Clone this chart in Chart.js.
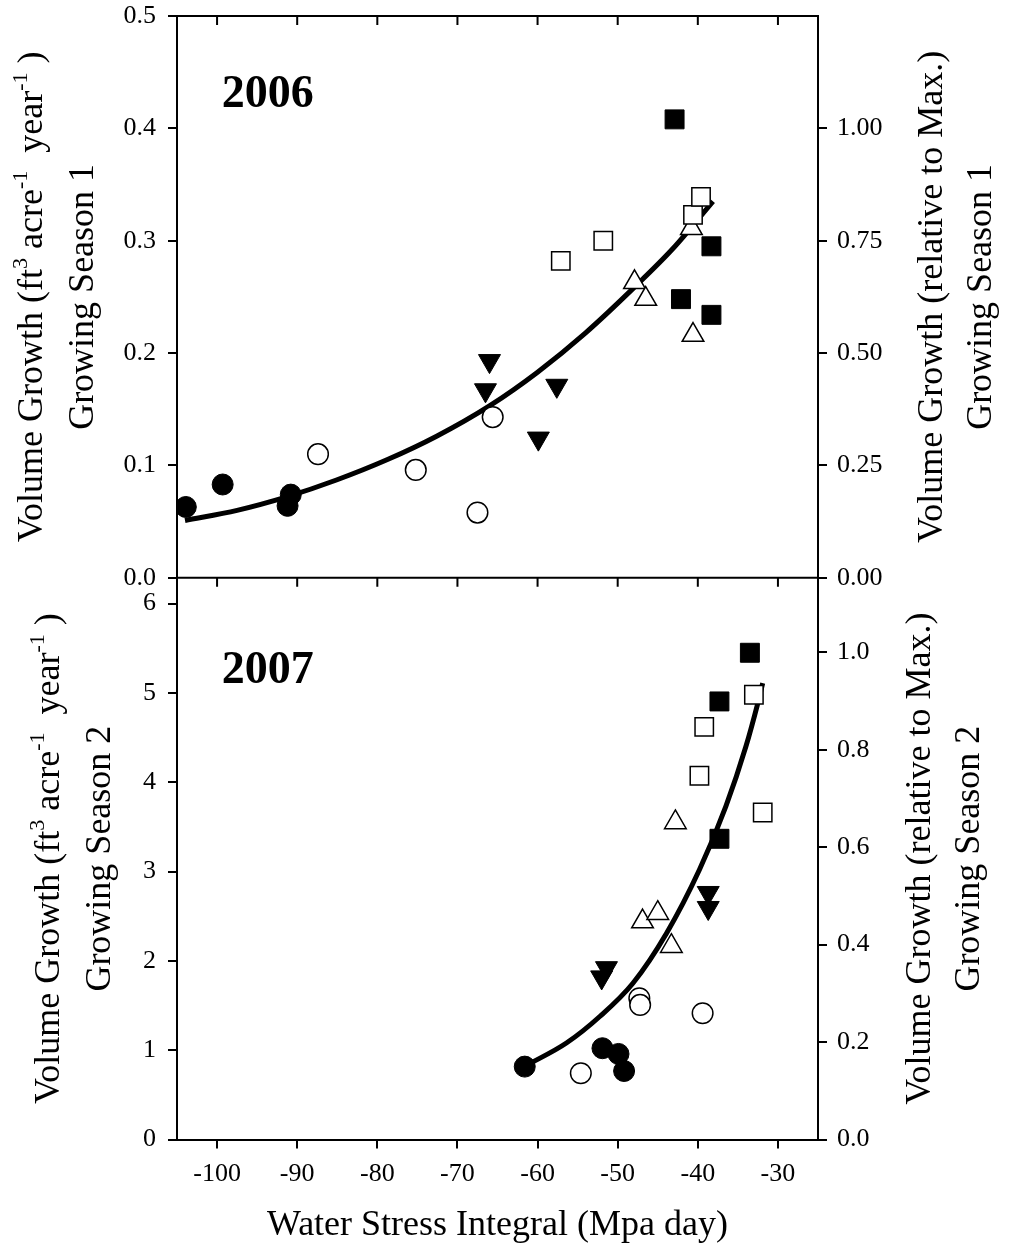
<!DOCTYPE html>
<html>
<head>
<meta charset="utf-8">
<script src="https://cdn.jsdelivr.net/npm/chart.js@4.4.1/dist/chart.umd.min.js"></script>
<style>
  body { margin: 0; background: #fff; }
  #wrap { position: relative; width: 1013px; height: 1251px; }
</style>
</head>
<body>
<div id="wrap"><canvas id="growthChart" width="1013" height="1251"></canvas></div>
<script>
// shared x axis
const xTicks = [-100, -90, -80, -70, -60, -50, -40, -30];
const xRange = [-105, -25];

// 2006 panel (growing season 1)
const leftTicks06 = [0, 0.1, 0.2, 0.3, 0.4, 0.5];
const rightTicks06 = [0, 0.25, 0.5, 0.75, 1.0];
const leftRange06 = [0, 0.5];
const rightRange06 = [0, 1.25];

const filledSquare06 = [[-42.9, 0.408], [-42.1, 0.248], [-38.3, 0.295], [-38.3, 0.234]];
const openSquare06 = [[-57.1, 0.282], [-51.8, 0.300], [-40.6, 0.323], [-39.6, 0.339]];
const openTriangle06 = [[-47.9, 0.263], [-46.5, 0.248], [-40.8, 0.311], [-40.6, 0.216]];
const filledTriangle06 = [[-66.0, 0.193], [-66.5, 0.167], [-59.9, 0.124], [-57.6, 0.171]];
const openCircle06 = [[-87.4, 0.110], [-75.2, 0.096], [-67.5, 0.058], [-65.6, 0.143]];
const filledCircle06 = [[-103.9, 0.063], [-99.3, 0.083], [-90.8, 0.074], [-91.2, 0.064]];
const fitCurve06 = [[-104.0, 0.051], [-97.5, 0.060], [-91.3, 0.072], [-85.1, 0.087], [-78.8, 0.105],
  [-72.6, 0.126], [-66.0, 0.153], [-60.0, 0.183], [-54.0, 0.218], [-48.0, 0.258],
  [-43.1, 0.293], [-38.1, 0.335]];

// 2007 panel (growing season 2)
const leftTicks07 = [0, 1, 2, 3, 4, 5, 6];
const rightTicks07 = [0, 0.2, 0.4, 0.6, 0.8, 1.0];
const leftRange07 = [0, 6.29];
const rightRange07 = [0, 1.153];

const filledSquare07 = [[-33.5, 5.45], [-37.3, 4.905], [-37.3, 3.367]];
const openSquare07 = [[-33.0, 4.98], [-39.2, 4.62], [-39.8, 4.073], [-31.9, 3.662]];
const openTriangle07 = [[-46.9, 2.44], [-45.0, 2.534], [-43.3, 2.165], [-42.8, 3.55]];
const filledTriangle07 = [[-51.4, 1.92], [-52.0, 1.817], [-38.7, 2.762], [-38.7, 2.594]];
const openCircle07 = [[-54.6, 0.742], [-47.3, 1.582], [-47.2, 1.507], [-39.4, 1.414]];
const filledCircle07 = [[-61.6, 0.816], [-51.9, 1.022], [-49.9, 0.958], [-49.2, 0.767]];
const fitCurve07 = [[-61.6, 0.82], [-56.4, 1.08], [-52.2, 1.38], [-48.1, 1.75], [-43.9, 2.31],
  [-39.8, 3.02], [-36.5, 3.73], [-34.0, 4.40], [-32.5, 4.89], [-31.9, 5.11]];

const FONT = '"Liberation Serif", "Times New Roman", serif';
Chart.defaults.font.family = FONT;
Chart.defaults.color = '#000';

const toXY = arr => arr.map(p => ({ x: p[0], y: p[1] }));

const markers = {
  filledSquare: { shape: 'rect', r: 13.4, rot: 0, fill: '#000', bw: 1 },
  openSquare: { shape: 'rect', r: 13, rot: 0, fill: '#fff', bw: 1.5 },
  openTriangle: { shape: 'triangle', r: 12.5, rot: 0, fill: '#fff', bw: 1.5 },
  filledTriangle: { shape: 'triangle', r: 12.7, rot: 180, fill: '#000', bw: 1 },
  openCircle: { shape: 'circle', r: 10.3, rot: 0, fill: '#fff', bw: 1.5 },
  filledCircle: { shape: 'circle', r: 10.5, rot: 0, fill: '#000', bw: 1 }
};

function markerSet(data, kind, axis) {
  const m = markers[kind];
  return {
    data: toXY(data), yAxisID: axis, showLine: false, order: 1,
    pointStyle: m.shape, pointRadius: m.r, pointHoverRadius: m.r, pointRotation: m.rot,
    pointBackgroundColor: m.fill, pointBorderColor: '#000', pointBorderWidth: m.bw
  };
}

function curveSet(data, axis) {
  return {
    data: toXY(data), yAxisID: axis, showLine: true, order: 2,
    borderColor: '#000', borderWidth: 5, pointRadius: 0, fill: false,
    cubicInterpolationMode: 'monotone'
  };
}

function yAxis(pos, stackName, weight, range, ticks, digits, width) {
  return {
    type: 'linear', position: pos, stack: stackName, stackWeight: 1, weight: weight,
    min: range[0], max: range[1],
    afterBuildTicks: s => { s.ticks = ticks.map(v => ({ value: v })); },
    afterFit: s => { s.width = width; s.paddingTop = 0; s.paddingBottom = 0; },
    ticks: { font: { size: 26 }, padding: pos === 'left' ? 12 : 10, callback: v => v.toFixed(digits) },
    grid: { drawOnChartArea: false, tickLength: 9, color: '#000', lineWidth: 2 },
    border: { color: '#000', width: 2 }
  };
}

function drawVerticalText(ctx, segs, cx, cy, size) {
  const supSize = Math.round(size * 0.62);
  let total = 0;
  segs.forEach(s => {
    ctx.font = (s.sup ? supSize : size) + 'px ' + FONT;
    s.w = ctx.measureText(s.t).width;
    total += s.w;
  });
  ctx.save();
  ctx.translate(cx, cy);
  ctx.rotate(-Math.PI / 2);
  ctx.textAlign = 'left';
  ctx.textBaseline = 'alphabetic';
  ctx.fillStyle = '#000';
  const base = size * 0.33;
  let x = -total / 2;
  segs.forEach(s => {
    ctx.font = (s.sup ? supSize : size) + 'px ' + FONT;
    ctx.fillText(s.t, x, s.sup ? base - size * 0.42 : base);
    x += s.w;
  });
  ctx.restore();
}

const unitsLine = () => [
  { t: 'Volume Growth (ft' }, { t: '3', sup: true }, { t: ' acre' }, { t: '-1', sup: true },
  { t: '  year' }, { t: '-1', sup: true }, { t: ' )' }
];

const framePlugin = {
  id: 'frame',
  afterDraw(chart) {
    const { ctx, chartArea: a, scales } = chart;
    const midY = scales.yTop.bottom;
    ctx.save();
    ctx.strokeStyle = '#000';
    ctx.lineWidth = 2;
    ctx.beginPath();
    ctx.moveTo(a.left - 1, a.top);
    ctx.lineTo(a.right + 1, a.top);
    ctx.moveTo(a.left, midY);
    ctx.lineTo(a.right, midY);
    xTicks.forEach(v => {
      const px = scales.x.getPixelForValue(v);
      ctx.moveTo(px, a.top);
      ctx.lineTo(px, a.top + 9);
      ctx.moveTo(px, midY);
      ctx.lineTo(px, midY + 9);
    });
    ctx.stroke();

    // panel year labels
    ctx.fillStyle = '#000';
    ctx.font = 'bold 46px ' + FONT;
    ctx.textAlign = 'left';
    ctx.textBaseline = 'alphabetic';
    ctx.fillText('2006', scales.x.getPixelForValue(-99.4), scales.yTop.getPixelForValue(0.419));
    ctx.fillText('2007', scales.x.getPixelForValue(-99.4), scales.yBot.getPixelForValue(5.11));

    // axis titles
    const topC = (scales.yTop.top + scales.yTop.bottom) / 2;
    const botC = (scales.yBot.top + scales.yBot.bottom) / 2;
    drawVerticalText(ctx, unitsLine(), 30, topC, 36);
    drawVerticalText(ctx, [{ t: 'Growing Season 1' }], 81, topC, 36);
    drawVerticalText(ctx, unitsLine(), 47, botC, 36);
    drawVerticalText(ctx, [{ t: 'Growing Season 2' }], 98, botC, 36);
    drawVerticalText(ctx, [{ t: 'Volume Growth (relative to Max.)' }], a.right + 112, topC, 36);
    drawVerticalText(ctx, [{ t: 'Growing Season 1' }], a.right + 161, topC, 36);
    drawVerticalText(ctx, [{ t: 'Volume Growth (relative to Max.)' }], a.right + 100, botC, 36);
    drawVerticalText(ctx, [{ t: 'Growing Season 2' }], a.right + 149, botC, 36);
    ctx.restore();
  }
};

new Chart(document.getElementById('growthChart'), {
  type: 'scatter',
  data: {
    datasets: [
      markerSet(filledSquare06, 'filledSquare', 'yTop'),
      markerSet(openSquare06, 'openSquare', 'yTop'),
      markerSet(openTriangle06, 'openTriangle', 'yTop'),
      markerSet(filledTriangle06, 'filledTriangle', 'yTop'),
      markerSet(openCircle06, 'openCircle', 'yTop'),
      markerSet(filledCircle06, 'filledCircle', 'yTop'),
      curveSet(fitCurve06, 'yTop'),
      markerSet(filledSquare07, 'filledSquare', 'yBot'),
      markerSet(openSquare07, 'openSquare', 'yBot'),
      markerSet(openTriangle07, 'openTriangle', 'yBot'),
      markerSet(filledTriangle07, 'filledTriangle', 'yBot'),
      markerSet(openCircle07, 'openCircle', 'yBot'),
      markerSet(filledCircle07, 'filledCircle', 'yBot'),
      curveSet(fitCurve07, 'yBot')
    ]
  },
  options: {
    responsive: false,
    animation: false,
    devicePixelRatio: 1,
    layout: { padding: { top: 16, left: 0, right: 0, bottom: 0 } },
    plugins: { legend: { display: false }, tooltip: { enabled: false } },
    scales: {
      x: {
        type: 'linear', position: 'bottom', min: xRange[0], max: xRange[1],
        afterBuildTicks: s => { s.ticks = xTicks.map(v => ({ value: v })); },
        afterFit: s => { s.height = 111.5; s.paddingLeft = 0; s.paddingRight = 0; },
        ticks: { font: { size: 26 }, padding: 10, maxRotation: 0, callback: v => String(v) },
        grid: { drawOnChartArea: false, tickLength: 9, color: '#000', lineWidth: 2 },
        border: { color: '#000', width: 2 },
        title: { display: true, text: 'Water Stress Integral (Mpa day)', font: { size: 36 }, padding: { top: 0, bottom: 4 } }
      },
      yTop: yAxis('left', 'left', 1, leftRange06, leftTicks06, 1, 177),
      yBot: yAxis('left', 'left', 0, leftRange07, leftTicks07, 0, 177),
      yTopR: yAxis('right', 'right', 0, rightRange06, rightTicks06, 2, 195),
      yBotR: yAxis('right', 'right', 1, rightRange07, rightTicks07, 1, 195)
    }
  },
  plugins: [framePlugin]
});
</script>
</body>
</html>
